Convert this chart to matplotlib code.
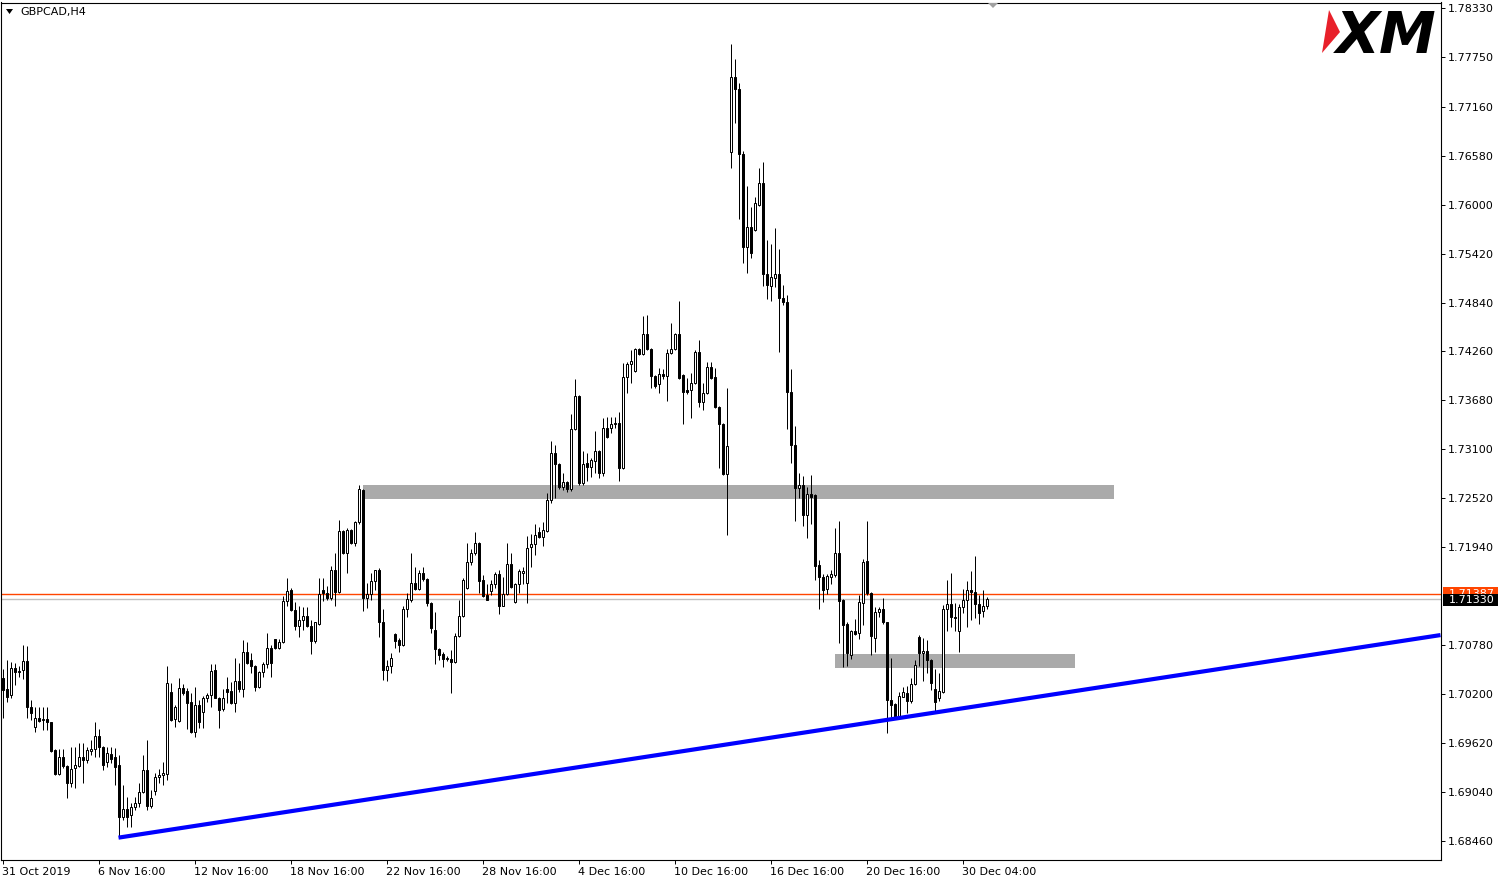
import numpy as np
import matplotlib
matplotlib.use('Agg')
import matplotlib.pyplot as plt
from matplotlib.patches import Rectangle, Polygon
import matplotlib.transforms as mtransforms

# GBPCAD H4 candles
opens = [
	1.7039, 1.7026, 1.7019, 1.7051, 1.7046, 1.7049, 1.7059, 1.7005, 1.6981, 1.6992,
	1.6989, 1.6991, 1.6987, 1.6954, 1.6925, 1.6946, 1.6935, 1.6915, 1.6932, 1.6935,
	1.6945, 1.6942, 1.6953, 1.6955, 1.6970, 1.6957, 1.6940, 1.6949, 1.6945, 1.6936,
	1.6874, 1.6884, 1.6877, 1.6886, 1.6891, 1.6904, 1.6930, 1.6888, 1.6905, 1.6922,
	1.6924, 1.6925, 1.7023, 1.6991, 1.6988, 1.7027, 1.7024, 1.7011, 1.6975, 1.7007,
	1.6999, 1.7016, 1.7019, 1.7049, 1.7016, 1.7002, 1.7026, 1.7024, 1.7010, 1.7036,
	1.7026, 1.7070, 1.7061, 1.7053, 1.7029, 1.7046, 1.7056, 1.7075, 1.7085, 1.7075,
	1.7082, 1.7130, 1.7143, 1.7120, 1.7101, 1.7108, 1.7113, 1.7101, 1.7083, 1.7103,
	1.7143, 1.7140, 1.7134, 1.7167, 1.7141, 1.7213, 1.7187, 1.7214, 1.7199, 1.7224,
	1.7262, 1.7134, 1.7139, 1.7154, 1.7167, 1.7105, 1.7049, 1.7053, 1.7091, 1.7084,
	1.7078, 1.7121, 1.7132, 1.7152, 1.7145, 1.7163, 1.7156, 1.7128, 1.7096, 1.7073,
	1.7067, 1.7062, 1.7062, 1.7058, 1.7089, 1.7113, 1.7146, 1.7177, 1.7187, 1.7199,
	1.7155, 1.7137, 1.7142, 1.7150, 1.7162, 1.7125, 1.7139, 1.7174, 1.7129, 1.7151,
	1.7163, 1.7152, 1.7194, 1.7198, 1.7212, 1.7206, 1.7213, 1.7250, 1.7306, 1.7293,
	1.7265, 1.7271, 1.7263, 1.7334, 1.7373, 1.7270, 1.7294, 1.7289, 1.7296, 1.7308,
	1.7282, 1.7335, 1.7335, 1.7340, 1.7341, 1.7288, 1.7396, 1.7411, 1.7403, 1.7429,
	1.7423, 1.7447, 1.7429, 1.7397, 1.7387, 1.7399, 1.7397, 1.7424, 1.7429, 1.7447,
	1.7398, 1.7380, 1.7380, 1.7389, 1.7425, 1.7366, 1.7377, 1.7408, 1.7396, 1.7360,
	1.7340, 1.7281, 1.7662, 1.7751, 1.7737, 1.7660, 1.7550, 1.7573, 1.7570, 1.7600,
	1.7626, 1.7518, 1.7504, 1.7513, 1.7518, 1.7489, 1.7485, 1.7378, 1.7315, 1.7264,
	1.7268, 1.7232, 1.7257, 1.7256, 1.7173, 1.7159, 1.7145, 1.7159, 1.7161, 1.7187,
	1.7132, 1.7103, 1.7066, 1.7095, 1.7092, 1.7128, 1.7178, 1.7140, 1.7087, 1.7117,
	1.7121, 1.7105, 1.7013, 1.7008, 1.6993, 1.7017, 1.7021, 1.7012, 1.7032, 1.7088,
	1.7069, 1.7071, 1.7061, 1.7026, 1.7015, 1.7023, 1.7121, 1.7127, 1.7111, 1.7095,
	1.7123, 1.7132, 1.7143, 1.7141, 1.7127, 1.7118, 1.7125,
]
highs = [
	1.7050, 1.7061, 1.7058, 1.7057, 1.7053, 1.7078, 1.7077, 1.7013, 1.7005, 1.7005,
	1.7005, 1.7005, 1.6987, 1.6955, 1.6955, 1.6955, 1.6936, 1.6957, 1.6957, 1.6962,
	1.6962, 1.6957, 1.6966, 1.6987, 1.6979, 1.6959, 1.6957, 1.6957, 1.6956, 1.6948,
	1.6912, 1.6898, 1.6891, 1.6898, 1.6915, 1.6948, 1.6966, 1.6906, 1.6927, 1.6931,
	1.6940, 1.7053, 1.7033, 1.7007, 1.7039, 1.7032, 1.7027, 1.7021, 1.7029, 1.7013,
	1.7018, 1.7021, 1.7056, 1.7056, 1.7017, 1.7026, 1.7040, 1.7034, 1.7063, 1.7057,
	1.7084, 1.7082, 1.7069, 1.7054, 1.7047, 1.7058, 1.7092, 1.7078, 1.7085, 1.7085,
	1.7136, 1.7158, 1.7146, 1.7129, 1.7124, 1.7123, 1.7123, 1.7108, 1.7106, 1.7158,
	1.7158, 1.7148, 1.7172, 1.7187, 1.7226, 1.7214, 1.7217, 1.7216, 1.7225, 1.7268,
	1.7263, 1.7152, 1.7163, 1.7167, 1.7170, 1.7121, 1.7061, 1.7069, 1.7092, 1.7086,
	1.7125, 1.7140, 1.7187, 1.7171, 1.7167, 1.7171, 1.7158, 1.7129, 1.7117, 1.7075,
	1.7070, 1.7065, 1.7072, 1.7092, 1.7132, 1.7158, 1.7199, 1.7192, 1.7212, 1.7200,
	1.7161, 1.7151, 1.7155, 1.7165, 1.7167, 1.7159, 1.7199, 1.7187, 1.7152, 1.7168,
	1.7171, 1.7207, 1.7210, 1.7222, 1.7218, 1.7224, 1.7258, 1.7320, 1.7315, 1.7294,
	1.7282, 1.7273, 1.7352, 1.7393, 1.7374, 1.7308, 1.7306, 1.7300, 1.7332, 1.7309,
	1.7347, 1.7348, 1.7348, 1.7348, 1.7354, 1.7412, 1.7414, 1.7428, 1.7430, 1.7430,
	1.7468, 1.7469, 1.7430, 1.7398, 1.7406, 1.7405, 1.7429, 1.7460, 1.7448, 1.7486,
	1.7399, 1.7395, 1.7401, 1.7428, 1.7440, 1.7389, 1.7414, 1.7414, 1.7406, 1.7361,
	1.7341, 1.7383, 1.7790, 1.7773, 1.7744, 1.7664, 1.7622, 1.7597, 1.7609, 1.7644,
	1.7651, 1.7558, 1.7553, 1.7572, 1.7548, 1.7505, 1.7493, 1.7405, 1.7338, 1.7282,
	1.7279, 1.7265, 1.7280, 1.7257, 1.7179, 1.7162, 1.7162, 1.7167, 1.7217, 1.7225,
	1.7133, 1.7105, 1.7096, 1.7109, 1.7138, 1.7180, 1.7225, 1.7141, 1.7123, 1.7123,
	1.7134, 1.7106, 1.7063, 1.7009, 1.7023, 1.7029, 1.7030, 1.7039, 1.7061, 1.7090,
	1.7086, 1.7084, 1.7062, 1.7050, 1.7045, 1.7126, 1.7155, 1.7163, 1.7128, 1.7127,
	1.7145, 1.7154, 1.7166, 1.7184, 1.7137, 1.7143, 1.7135,
]
lows = [
	1.6992, 1.7011, 1.7016, 1.7031, 1.7040, 1.7038, 1.6992, 1.6989, 1.6975, 1.6987,
	1.6978, 1.6978, 1.6952, 1.6924, 1.6924, 1.6932, 1.6897, 1.6910, 1.6909, 1.6934,
	1.6915, 1.6938, 1.6948, 1.6946, 1.6946, 1.6930, 1.6934, 1.6938, 1.6912, 1.6850,
	1.6871, 1.6863, 1.6863, 1.6883, 1.6886, 1.6903, 1.6883, 1.6885, 1.6901, 1.6915,
	1.6912, 1.6918, 1.6988, 1.6981, 1.6987, 1.7019, 1.6979, 1.6974, 1.6969, 1.6980,
	1.6980, 1.7011, 1.7005, 1.7015, 1.6980, 1.7000, 1.7010, 1.7008, 1.6999, 1.7023,
	1.7017, 1.7056, 1.7045, 1.7024, 1.7027, 1.7040, 1.7051, 1.7040, 1.7074, 1.7074,
	1.7081, 1.7124, 1.7119, 1.7096, 1.7088, 1.7096, 1.7100, 1.7068, 1.7081, 1.7102,
	1.7130, 1.7132, 1.7132, 1.7125, 1.7140, 1.7186, 1.7163, 1.7198, 1.7195, 1.7222,
	1.7119, 1.7122, 1.7132, 1.7143, 1.7088, 1.7037, 1.7036, 1.7045, 1.7075, 1.7070,
	1.7077, 1.7111, 1.7129, 1.7143, 1.7143, 1.7154, 1.7124, 1.7092, 1.7056, 1.7061,
	1.7052, 1.7059, 1.7021, 1.7057, 1.7088, 1.7111, 1.7145, 1.7173, 1.7185, 1.7140,
	1.7135, 1.7131, 1.7137, 1.7146, 1.7115, 1.7124, 1.7137, 1.7146, 1.7128, 1.7140,
	1.7150, 1.7128, 1.7171, 1.7185, 1.7205, 1.7195, 1.7212, 1.7246, 1.7252, 1.7263,
	1.7262, 1.7260, 1.7261, 1.7333, 1.7268, 1.7268, 1.7273, 1.7277, 1.7282, 1.7276,
	1.7279, 1.7324, 1.7330, 1.7335, 1.7272, 1.7287, 1.7377, 1.7389, 1.7402, 1.7422,
	1.7422, 1.7428, 1.7383, 1.7383, 1.7377, 1.7393, 1.7367, 1.7423, 1.7428, 1.7393,
	1.7340, 1.7376, 1.7347, 1.7388, 1.7360, 1.7357, 1.7376, 1.7393, 1.7359, 1.7288,
	1.7280, 1.7209, 1.7644, 1.7697, 1.7583, 1.7531, 1.7519, 1.7537, 1.7569, 1.7598,
	1.7504, 1.7488, 1.7486, 1.7502, 1.7425, 1.7481, 1.7334, 1.7294, 1.7225, 1.7252,
	1.7219, 1.7205, 1.7222, 1.7155, 1.7121, 1.7129, 1.7139, 1.7151, 1.7159, 1.7081,
	1.7052, 1.7053, 1.7062, 1.7090, 1.7085, 1.7102, 1.7138, 1.7066, 1.7070, 1.7111,
	1.7103, 1.6974, 1.6993, 1.6992, 1.6992, 1.7017, 1.6998, 1.7010, 1.7031, 1.7053,
	1.7036, 1.7045, 1.7025, 1.6999, 1.7012, 1.7021, 1.7095, 1.7100, 1.7095, 1.7070,
	1.7116, 1.7100, 1.7108, 1.7110, 1.7103, 1.7111, 1.7121,
]
closes = [
	1.7025, 1.7017, 1.7051, 1.7046, 1.7047, 1.7059, 1.7005, 1.6998, 1.6992, 1.6988,
	1.6991, 1.6987, 1.6953, 1.6925, 1.6946, 1.6935, 1.6915, 1.6931, 1.6936, 1.6945,
	1.6942, 1.6954, 1.6955, 1.6970, 1.6957, 1.6936, 1.6950, 1.6943, 1.6934, 1.6874,
	1.6884, 1.6874, 1.6886, 1.6891, 1.6904, 1.6930, 1.6888, 1.6897, 1.6922, 1.6924,
	1.6927, 1.7033, 1.6989, 1.7005, 1.7027, 1.7021, 1.7010, 1.6975, 1.7007, 1.6987,
	1.7016, 1.7019, 1.7047, 1.7016, 1.7001, 1.7016, 1.7023, 1.7010, 1.7036, 1.7026,
	1.7070, 1.7057, 1.7053, 1.7029, 1.7046, 1.7056, 1.7075, 1.7057, 1.7075, 1.7082,
	1.7130, 1.7142, 1.7120, 1.7101, 1.7108, 1.7113, 1.7101, 1.7083, 1.7106, 1.7139,
	1.7140, 1.7134, 1.7167, 1.7141, 1.7213, 1.7187, 1.7214, 1.7199, 1.7224, 1.7263,
	1.7134, 1.7139, 1.7154, 1.7167, 1.7105, 1.7049, 1.7053, 1.7063, 1.7083, 1.7078,
	1.7121, 1.7133, 1.7152, 1.7145, 1.7163, 1.7156, 1.7128, 1.7098, 1.7073, 1.7066,
	1.7062, 1.7063, 1.7058, 1.7089, 1.7113, 1.7155, 1.7177, 1.7187, 1.7199, 1.7154,
	1.7136, 1.7132, 1.7150, 1.7162, 1.7125, 1.7139, 1.7174, 1.7147, 1.7151, 1.7166,
	1.7166, 1.7193, 1.7198, 1.7209, 1.7206, 1.7214, 1.7250, 1.7306, 1.7293, 1.7265,
	1.7271, 1.7263, 1.7334, 1.7373, 1.7270, 1.7293, 1.7289, 1.7297, 1.7308, 1.7282,
	1.7335, 1.7325, 1.7340, 1.7341, 1.7288, 1.7396, 1.7411, 1.7415, 1.7429, 1.7423,
	1.7447, 1.7429, 1.7397, 1.7385, 1.7399, 1.7397, 1.7424, 1.7429, 1.7447, 1.7395,
	1.7378, 1.7378, 1.7389, 1.7425, 1.7366, 1.7377, 1.7408, 1.7395, 1.7360, 1.7340,
	1.7281, 1.7314, 1.7751, 1.7737, 1.7660, 1.7550, 1.7573, 1.7543, 1.7602, 1.7626,
	1.7518, 1.7505, 1.7514, 1.7518, 1.7489, 1.7485, 1.7378, 1.7315, 1.7264, 1.7268,
	1.7232, 1.7257, 1.7254, 1.7172, 1.7159, 1.7143, 1.7160, 1.7162, 1.7187, 1.7130,
	1.7102, 1.7069, 1.7095, 1.7091, 1.7129, 1.7177, 1.7140, 1.7089, 1.7117, 1.7121,
	1.7105, 1.7013, 1.7007, 1.6993, 1.7018, 1.7023, 1.7012, 1.7032, 1.7055, 1.7069,
	1.7071, 1.7061, 1.7033, 1.7011, 1.7024, 1.7121, 1.7127, 1.7111, 1.7110, 1.7123,
	1.7132, 1.7143, 1.7141, 1.7127, 1.7116, 1.7125, 1.7133,
]

symbol = 'GBPCAD,H4'
bid = 1.71330
ask = 1.71387

price_ticks = [1.78330, 1.77750, 1.77160, 1.76580, 1.76000, 1.75420, 1.74840, 1.74260,
			   1.73680, 1.73100, 1.72520, 1.71940, 1.70780, 1.70200, 1.69620, 1.69040, 1.68460]
date_pos = [0, 24, 48, 72, 96, 120, 144, 168, 192, 216, 240]
date_labels = ['31 Oct 2019', '6 Nov 16:00', '12 Nov 16:00', '18 Nov 16:00', '22 Nov 16:00',
			   '28 Nov 16:00', '4 Dec 16:00', '10 Dec 16:00', '16 Dec 16:00', '20 Dec 16:00',
			   '30 Dec 04:00']

# support / resistance zones: (first bar, last bar, bottom, top)
zones = [(90, 277.75, 1.7251, 1.7268), (208, 268, 1.7051, 1.7068)]
# trend line through two points (bar, price)
trend = [(29, 1.6850), (359.5, 1.7090)]

W, H = 1507, 882
fig = plt.figure(figsize=(W / 100, H / 100), dpi=100)
fig.patch.set_facecolor('white')
ax = fig.add_axes([1 / W, (H - 860) / H, 1440 / W, 857.5 / H])
# 4 px per bar, bar centres on pixel centres
ax.set_xlim(-0.375, 359.625)
ax.set_ylim(1.68235, 1.78395)

o = np.array(opens)
h = np.array(highs)
l = np.array(lows)
c = np.array(closes)
x = np.arange(len(o))
up = c >= o

for x0, x1, y0, y1 in zones:
	ax.add_patch(Rectangle((x0, y0), x1 - x0, y1 - y0, facecolor='#AAAAAA', edgecolor='none', zorder=1))

ax.axhline(ask, color='#FF4500', lw=1.0, zorder=2)
ax.axhline(bid, color='#C0C0C0', lw=1.0, zorder=2)

ax.vlines(x, l, h, color='black', lw=0.72, zorder=3)
body_lo = np.minimum(o, c)
body_h = np.maximum(np.abs(c - o), 0.00003)
ax.bar(x, body_h, bottom=body_lo, width=0.5, color=np.where(up, 'white', 'black'),
	   edgecolor='black', linewidth=0.72, zorder=4)

(tx0, ty0), (tx1, ty1) = trend
ax.plot([tx0, tx1], [ty0, ty1], color='#0000FF', lw=3.0, solid_capstyle='butt', zorder=5)

# axes look
for s in ax.spines.values():
	s.set_color('black')
	s.set_linewidth(0.8)
ax.yaxis.tick_right()
ax.set_yticks(price_ticks)
ax.set_yticklabels(['%.5f' % p for p in price_ticks])
ax.tick_params(axis='y', direction='out', length=3, width=0.7, labelsize=8, pad=2, colors='black')
ax.set_xticks(date_pos)
ax.set_xticklabels(date_labels, ha='left')
ax.tick_params(axis='x', direction='out', length=3, width=0.7, labelsize=8, pad=2, colors='black')

# current price labels on the price scale
blend = mtransforms.blended_transform_factory(ax.transAxes, ax.transData)
bx0 = 1442 / 1440
bw = 55 / 1440
ax.add_patch(Rectangle((bx0, ask - 0.00070), bw, 0.00150, transform=blend, facecolor='#FF4500',
					   edgecolor='none', clip_on=False, zorder=6))
ax.text(1447.5 / 1440, ask + 0.00004, '%.5f' % ask, transform=blend, color='white', fontsize=8,
		ha='left', va='center', clip_on=False, zorder=7)
ax.add_patch(Rectangle((bx0, bid - 0.00080), bw, 0.00132, transform=blend, facecolor='black',
					   edgecolor='none', clip_on=False, zorder=8))
ax.text(1447.5 / 1440, bid - 0.00013, '%.5f' % bid, transform=blend, color='white', fontsize=8,
		ha='left', va='center', clip_on=False, zorder=9)


def px(xp, yp):
	return (xp / W, 1 - yp / H)


# symbol caption
fig.add_artist(Polygon([px(6, 9), px(13, 9), px(9.5, 14)], closed=True, facecolor='black',
					   edgecolor='none', transform=fig.transFigure))
fig.text(20 / W, 1 - 12.5 / H, symbol, fontsize=8, ha='left', va='center')

# chart shift marker
fig.add_artist(Polygon([px(988, 3), px(998, 3), px(993, 8)], closed=True, facecolor='#A0A0A0',
					   edgecolor='none', transform=fig.transFigure))

# broker logo
fig.add_artist(Polygon([px(1329, 10), px(1340, 32), px(1322, 53)], closed=True, facecolor='#E8202A',
					   edgecolor='none', transform=fig.transFigure))
fig.text(1336 / W, 1 - 53 / H, 'XM', fontsize=41, fontweight='bold', fontstyle='italic',
		 ha='left', va='baseline', color='black')

fig.savefig('out.png', dpi=100)
